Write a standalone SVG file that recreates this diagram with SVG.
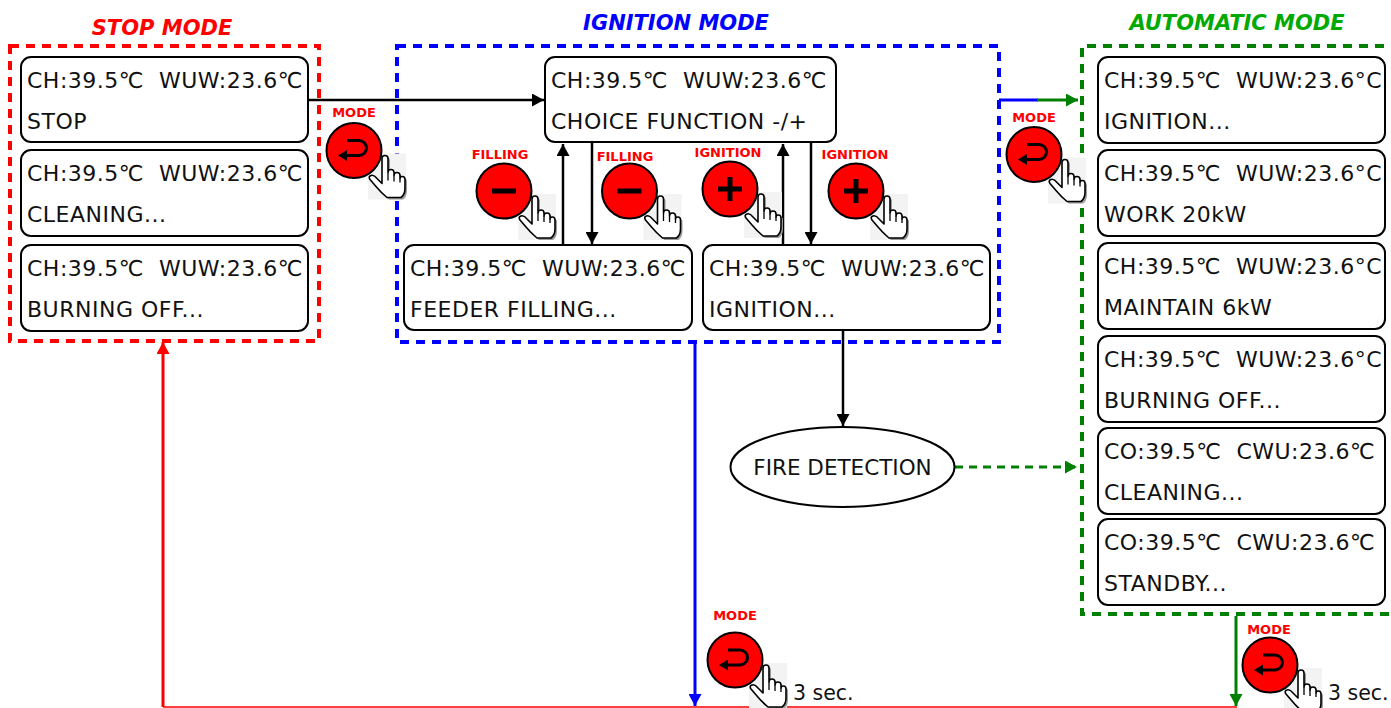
<svg xmlns="http://www.w3.org/2000/svg" width="1391" height="708" viewBox="0 0 1391 708">
<style>
.node rect{fill:#fff;stroke:#000;stroke-width:2}
.nt{font-family:"DejaVu Sans",Verdana,sans-serif;font-size:22px;fill:#111;white-space:pre;letter-spacing:0.5px}
.title{font-family:"DejaVu Sans",Verdana,sans-serif;font-size:21px;font-weight:bold;font-style:italic}
.bl{font-family:"DejaVu Sans",Verdana,sans-serif;font-size:13px;font-weight:bold;fill:#f00;text-anchor:middle}
.sec{font-family:"DejaVu Sans",Verdana,sans-serif;font-size:20.5px;fill:#111}
.frame{fill:none;stroke-width:4;stroke-dasharray:9 7}
.ln{fill:none;stroke-width:2.5}
</style>
<defs>
<marker id="mk" markerUnits="userSpaceOnUse" markerWidth="13" markerHeight="13" refX="12" refY="6.5" orient="auto"><path d="M0,0 L12,6.5 L0,13 Z" fill="#000"/></marker>
<marker id="mg" markerUnits="userSpaceOnUse" markerWidth="13" markerHeight="13" refX="12" refY="6.5" orient="auto"><path d="M0,0 L12,6.5 L0,13 Z" fill="#008000"/></marker>
<marker id="mb" markerUnits="userSpaceOnUse" markerWidth="13" markerHeight="13" refX="12" refY="6.5" orient="auto"><path d="M0,0 L12,6.5 L0,13 Z" fill="#0000ff"/></marker>
<marker id="mr" markerUnits="userSpaceOnUse" markerWidth="13" markerHeight="13" refX="12" refY="6.5" orient="auto"><path d="M0,0 L12,6.5 L0,13 Z" fill="#ff0000"/></marker>
<rect id="handbg" x="14" y="3" width="38" height="46" fill="#f3f3f3"/>
<g id="hand">
<path d="M28,30 L28,8 Q28,5 31,5 Q34,5 34,8 L34,22 Q34,19 37,19 Q40,19 40,22 L40,25 Q40,22 43,22 Q46,22 46,25 L46,28 Q46,26 48.5,26 Q51,26 51,29 L51,38 Q51,44 47,47 L33,47 Q27,42 22,36 L16,29 Q14,26 17,25 Q20,24 23,28 L28,33 Z" transform="translate(2,2)" fill="#9a9a9a"/>
<path d="M28,30 L28,8 Q28,5 31,5 Q34,5 34,8 L34,22 Q34,19 37,19 Q40,19 40,22 L40,25 Q40,22 43,22 Q46,22 46,25 L46,28 Q46,26 48.5,26 Q51,26 51,29 L51,38 Q51,44 47,47 L33,47 Q27,42 22,36 L16,29 Q14,26 17,25 Q20,24 23,28 L28,33 Z" fill="#fff" stroke="#000" stroke-width="1.6" stroke-linejoin="round"/>
<path d="M34,22 L34,30 M40,25 L40,31 M46,28 L46,32" fill="none" stroke="#000" stroke-width="1.3"/>
</g>
<g id="bmode">
<use href="#handbg"/>
<circle r="27.5" fill="#f00" stroke="#000" stroke-width="2"/>
<path d="M-7,-10 L5,-10 A7.5,7.5 0 0 1 5,5 L-8,5" fill="none" stroke="#000" stroke-width="3"/>
<path d="M-16,5 L-7,-0.5 L-7,10.5 Z" fill="#000"/>
<use href="#hand"/>
</g>
<g id="bminus">
<use href="#handbg"/>
<circle r="27.5" fill="#f00" stroke="#000" stroke-width="2"/>
<rect x="-12" y="-2.5" width="24" height="5" fill="#000"/>
<use href="#hand"/>
</g>
<g id="bplus">
<use href="#handbg"/>
<circle r="27.5" fill="#f00" stroke="#000" stroke-width="2"/>
<rect x="-12" y="-2.5" width="24" height="5" fill="#000"/>
<rect x="-2.5" y="-12" width="5" height="24" fill="#000"/>
<use href="#hand"/>
</g>
</defs>
<rect width="1391" height="708" fill="#fff"/>

<!-- mode frames -->
<g id="stop-mode">
<rect class="frame" x="10" y="46" width="309" height="295" stroke="#ff0000"/>
<text class="title" x="162" y="35" fill="#ff0000" text-anchor="middle">STOP MODE</text>
</g>
<g id="ignition-mode">
<rect class="frame" x="397" y="46" width="602" height="296" stroke="#0000ff"/>
<text class="title" x="676" y="30" fill="#0000ff" text-anchor="middle">IGNITION MODE</text>
</g>
<g id="automatic-mode">
<path class="frame" d="M1400,46 L1082,46 L1082,614 L1400,614" stroke="#008000"/>
<text class="title" x="1237" y="30" fill="#00aa00" text-anchor="middle">AUTOMATIC MODE</text>
</g>

<!-- connectors -->
<g id="connectors">
<line class="ln" x1="308" y1="100" x2="544" y2="100" stroke="#000" marker-end="url(#mk)"/>
<line class="ln" x1="563" y1="245" x2="563" y2="144" stroke="#000" marker-end="url(#mk)"/>
<line class="ln" x1="592" y1="143" x2="592" y2="244" stroke="#000" marker-end="url(#mk)"/>
<line class="ln" x1="783" y1="245" x2="783" y2="144" stroke="#000" marker-end="url(#mk)"/>
<line class="ln" x1="811" y1="143" x2="811" y2="244" stroke="#000" marker-end="url(#mk)"/>
<line class="ln" x1="843" y1="330" x2="843" y2="426" stroke="#000" marker-end="url(#mk)"/>
<line x1="999" y1="100" x2="1038" y2="100" stroke="#0000ff" stroke-width="3"/>
<line x1="1037" y1="100" x2="1078" y2="100" stroke="#008000" stroke-width="3" marker-end="url(#mg)"/>
<line x1="955" y1="467" x2="1077" y2="467" stroke="#008000" stroke-width="3" stroke-dasharray="8 6" marker-end="url(#mg)"/>
<line x1="695" y1="342" x2="695" y2="706" stroke="#0000ff" stroke-width="3" marker-end="url(#mb)"/>
<line x1="1236" y1="616" x2="1236" y2="706" stroke="#008000" stroke-width="3" marker-end="url(#mg)"/>
<line x1="163" y1="707" x2="1237" y2="707" stroke="#ff0000" stroke-width="1.5"/>
<line x1="163" y1="707" x2="163" y2="342" stroke="#ff0000" stroke-width="3" marker-end="url(#mr)"/>
</g>

<!-- stop nodes -->
<g id="stop-1" class="node"><rect x="21" y="57" width="287" height="85" rx="10"/><text class="nt" x="27" y="88">CH:39.5℃  WUW:23.6℃</text><text class="nt" x="27" y="129">STOP</text></g>
<g id="stop-2" class="node"><rect x="21" y="150" width="287" height="86" rx="10"/><text class="nt" x="27" y="181">CH:39.5℃  WUW:23.6℃</text><text class="nt" x="27" y="222">CLEANING...</text></g>
<g id="stop-3" class="node"><rect x="21" y="245" width="287" height="86" rx="10"/><text class="nt" x="27" y="276">CH:39.5℃  WUW:23.6℃</text><text class="nt" x="27" y="317">BURNING OFF...</text></g>

<!-- ignition nodes -->
<g id="ign-choice" class="node"><rect x="545" y="57" width="291" height="85" rx="10"/><text class="nt" x="551" y="88">CH:39.5℃  WUW:23.6℃</text><text class="nt" x="551" y="129">CHOICE FUNCTION -/+</text></g>
<g id="ign-feeder" class="node"><rect x="404" y="245" width="288" height="85" rx="10"/><text class="nt" x="410" y="276">CH:39.5℃  WUW:23.6℃</text><text class="nt" x="410" y="317">FEEDER FILLING...</text></g>
<g id="ign-ignition" class="node"><rect x="703" y="245" width="287" height="85" rx="10"/><text class="nt" x="709" y="276">CH:39.5℃  WUW:23.6℃</text><text class="nt" x="709" y="317">IGNITION...</text></g>

<!-- fire detection -->
<g id="fire-detection">
<ellipse cx="842.5" cy="467" rx="112" ry="40" fill="#fff" stroke="#000" stroke-width="2"/>
<text x="842.5" y="475" text-anchor="middle" style="font-family:'DejaVu Sans',Verdana,sans-serif;font-size:21.5px;fill:#111">FIRE DETECTION</text>
</g>

<!-- automatic nodes -->
<g id="auto-1" class="node"><rect x="1098" y="57" width="287" height="86" rx="10"/><text class="nt" x="1104" y="88">CH:39.5℃  WUW:23.6°C</text><text class="nt" x="1104" y="129">IGNITION...</text></g>
<g id="auto-2" class="node"><rect x="1098" y="150" width="287" height="86" rx="10"/><text class="nt" x="1104" y="181">CH:39.5℃  WUW:23.6°C</text><text class="nt" x="1104" y="222">WORK 20kW</text></g>
<g id="auto-3" class="node"><rect x="1098" y="243" width="287" height="86" rx="10"/><text class="nt" x="1104" y="274">CH:39.5℃  WUW:23.6°C</text><text class="nt" x="1104" y="315">MAINTAIN 6kW</text></g>
<g id="auto-4" class="node"><rect x="1098" y="336" width="287" height="86" rx="10"/><text class="nt" x="1104" y="367">CH:39.5℃  WUW:23.6°C</text><text class="nt" x="1104" y="408">BURNING OFF...</text></g>
<g id="auto-5" class="node"><rect x="1098" y="428" width="287" height="86" rx="10"/><text class="nt" x="1104" y="459">CO:39.5℃  CWU:23.6℃</text><text class="nt" x="1104" y="500">CLEANING...</text></g>
<g id="auto-6" class="node"><rect x="1098" y="519" width="287" height="86" rx="10"/><text class="nt" x="1104" y="550">CO:39.5℃  CWU:23.6℃</text><text class="nt" x="1104" y="591">STANDBY...</text></g>

<!-- buttons -->
<g id="btn-mode-1"><text class="bl" x="354" y="117">MODE</text><use href="#bmode" transform="translate(354,150.5)"/></g>
<g id="btn-filling-1"><text class="bl" x="500" y="159">FILLING</text><use href="#bminus" transform="translate(504,191)"/></g>
<g id="btn-filling-2"><text class="bl" x="625" y="161">FILLING</text><use href="#bminus" transform="translate(629.5,191)"/></g>
<g id="btn-ignition-1"><text class="bl" x="728" y="157">IGNITION</text><use href="#bplus" transform="translate(730,189)"/></g>
<g id="btn-ignition-2"><text class="bl" x="855" y="159">IGNITION</text><use href="#bplus" transform="translate(856,191)"/></g>
<g id="btn-mode-2"><text class="bl" x="1034" y="122">MODE</text><use href="#bmode" transform="translate(1034,154.5)"/></g>
<g id="btn-mode-3"><text class="bl" x="735" y="620">MODE</text><use href="#bmode" transform="translate(735,660)"/><text class="sec" x="793" y="700">3 sec.</text></g>
<g id="btn-mode-4"><text class="bl" x="1269" y="634">MODE</text><use href="#bmode" transform="translate(1270,665)"/><text class="sec" x="1328" y="700">3 sec.</text></g>
</svg>
